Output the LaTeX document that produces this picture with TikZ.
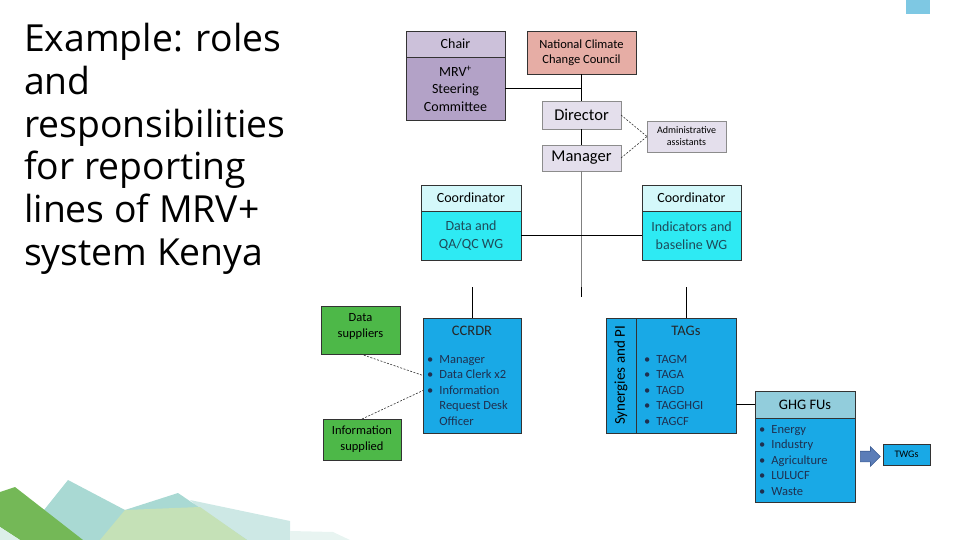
\documentclass[tikz,border=0pt]{standalone}
\usepackage{fontspec}
\setmainfont{Carlito}
\newfontfamily\titlefont{Open Sans}
\usepackage{xcolor}
\definecolor{chairhead}{HTML}{CCC1DA}
\definecolor{steerfill}{HTML}{B3A2C7}
\definecolor{councilfill}{HTML}{E6ADA5}
\definecolor{lavfill}{HTML}{E4DFEC}
\definecolor{coordhead}{HTML}{D4F8FA}
\definecolor{wgfill}{HTML}{2EEAF3}
\definecolor{unitblue}{HTML}{19A9E6}
\definecolor{ghgheadfill}{HTML}{92CDDC}
\definecolor{supgreen}{HTML}{4DB848}
\definecolor{arrowfill}{HTML}{5B7DB8}
\definecolor{arrowedge}{HTML}{3F5F96}
\definecolor{listtext}{HTML}{1F3050}
\definecolor{wgtext}{HTML}{1E4B5A}
\definecolor{tealmid}{HTML}{A9D9D3}
\definecolor{teallight}{HTML}{CDE8E5}
\definecolor{greenlight}{HTML}{C5E1B7}
\definecolor{greendark}{HTML}{74B857}
\definecolor{mint}{HTML}{DCEFE9}
\definecolor{mintpale}{HTML}{E8F4F1}
\definecolor{topblue}{HTML}{7EC8E3}
\usepackage{tikz}
\usetikzlibrary{positioning, shapes.arrows}

\newcommand{\fsz}[2]{\fontsize{#1}{#2}\selectfont}
\newcommand{\blist}[1]{\begin{tabular}{@{}l@{\hspace{6pt}}l@{}}#1\end{tabular}}

\begin{document}
\begin{tikzpicture}[x=1pt, y=-1pt, >=latex]

        % Estilos
        \tikzset{
          box/.style={rectangle, draw=black!80, line width=0.9pt, outer sep=0pt, inner sep=1pt, align=center, anchor=north west},
          lavbox/.style={box, draw=black!45, fill=lavfill},
          unittitle/.style={inner sep=0pt, font=\fsz{14.5}{17}, text=black!85},
          unitlist/.style={inner sep=0pt, font=\fsz{12.5}{15.6}, text=listtext},
          link/.style={draw=black, line width=0.8pt},
          dashlink/.style={draw=black!80, line width=0.6pt, dash pattern=on 2pt off 1.5pt}
        }
        \useasboundingbox (0,0) rectangle (960,540);

        % Fundo decorativo
        \fill[teallight] (190,500) -- (290,521) -- (290,540) -- (232,540) -- cycle;
        \fill[tealmid] (20,540) -- (68,480) -- (125,510) -- (178,493) -- (247,540) -- cycle;
        \fill[greenlight] (100,540) -- (125,510) -- (200,507) -- (247,540) -- cycle;
        \fill[greendark] (0,492) -- (15,487) -- (83,540) -- (20,540) -- (0,527) -- cycle;
        \fill[mint] (0,527) -- (20,540) -- (0,540) -- cycle;
        \fill[mintpale] (290,531) -- (333,532) -- (350,540) -- (290,540) -- cycle;
        \fill[topblue] (906,0) rectangle (930,14);

        % Titulo
        \node[anchor=north west, align=left, inner sep=0pt, font=\titlefont\fsz{37.3}{42.8}] (title) at (24,23)
          {Example: roles\\and\\responsibilities\\for reporting\\lines of MRV+\\system Kenya};

        % Topo
        \node[box, fill=chairhead, minimum width=99pt, minimum height=26pt, font=\fsz{14}{17}] (chair) at (406,31) {Chair};
        \node[box, fill=steerfill, below=0pt of chair, minimum width=99pt, minimum height=63pt, font=\fsz{14}{17.5}] (steer) {MRV\textsuperscript{+}\\Steering\\Committee};
        \node[box, fill=councilfill, minimum width=109pt, minimum height=43pt, font=\fsz{12.5}{15}] (council) at (527,31) {National Climate\\Change Council};
        \node[lavbox, minimum width=79pt, minimum height=28pt, font=\fsz{16.5}{19}] (director) at (542,101) {Director};
        \node[lavbox, minimum width=79pt, minimum height=26pt, font=\fsz{16.5}{19}] (manager) at (542,145) {Manager};
        \node[lavbox, minimum width=79pt, minimum height=31pt, font=\fsz{10}{12}] (admin) at (647,121) {Administrative\\assistants};

        % Coordenadores
        \node[box, fill=coordhead, minimum width=100pt, minimum height=26pt, font=\fsz{14}{17}] (coordL) at (421,185) {Coordinator};
        \node[box, fill=wgfill, text=wgtext, below=0pt of coordL, minimum width=100pt, minimum height=49pt, font=\fsz{14}{18}] (dataqa) {Data and\\QA/QC WG};
        \node[box, fill=coordhead, minimum width=99pt, minimum height=26pt, font=\fsz{14}{17}] (coordR) at (642,185) {Coordinator};
        \node[box, fill=wgfill, text=wgtext, below=0pt of coordR, minimum width=99pt, minimum height=49pt, font=\fsz{14}{18}] (indwg) {Indicators and\\baseline WG};

        % Fornecedores
        \node[box, fill=supgreen, minimum width=79pt, minimum height=48pt, font=\fsz{12.5}{16}] (datasup) at (321,306) {Data\\suppliers\\[-6pt]};
        \node[box, fill=supgreen, minimum width=78pt, minimum height=41pt, font=\fsz{12.5}{16}] (infosup) at (323,419) {Information\\supplied};

        % CCRDR
        \node[box, fill=unitblue, minimum width=98pt, minimum height=115pt] (ccrdr) at (423,318) {};
        \node[unittitle, below=8pt of ccrdr.north] (ccrdrtitle) {CCRDR};
        \node[unitlist, below right=34pt and 4pt of ccrdr.north west] (ccrdrlist)
          {\blist{\textbullet & Manager\\ \textbullet & Data Clerk x2\\ \textbullet & Information\\ & Request Desk\\ & Officer}};

        % TAGs
        \node[box, fill=unitblue, rotate=90, anchor=center, minimum width=115pt, minimum height=30pt, font=\fsz{15}{18}] (synergy) at (621,375.5) {Synergies and PI};
        \node[box, fill=unitblue, minimum width=100pt, minimum height=115pt] (tags) at (636,318) {};
        \node[unittitle, below=8pt of tags.north] (tagstitle) {TAGs};
        \node[unitlist, below right=34pt and 8pt of tags.north west] (tagslist)
          {\blist{\textbullet & TAGM\\ \textbullet & TAGA\\ \textbullet & TAGD\\ \textbullet & TAGGHGI\\ \textbullet & TAGCF}};

        % GHG FUs
        \node[box, fill=ghgheadfill, minimum width=100pt, minimum height=27pt, font=\fsz{14.5}{17}] (ghghead) at (755,391) {GHG FUs};
        \node[box, fill=unitblue, below=0pt of ghghead, minimum width=100pt, minimum height=84pt] (ghgbody) {};
        \node[unitlist, below right=4pt and 4pt of ghgbody.north west] (ghglist)
          {\blist{\textbullet & Energy\\ \textbullet & Industry\\ \textbullet & Agriculture\\ \textbullet & LULUCF\\ \textbullet & Waste}};
        \node[single arrow, draw=arrowedge, fill=arrowfill, line width=0.6pt, inner sep=5pt, minimum height=20pt, single arrow head extend=4.5pt, anchor=west] (twgarrow) at (860,456.5) {};
        \node[box, fill=unitblue, minimum width=47pt, minimum height=21pt, font=\fsz{10}{12}] (twgs) at (883,444) {TWGs};

        % Ligacoes
        \coordinate (hubtop) at (581.5,287);
        \coordinate (hub) at (581.5,297);
        \coordinate (ccrdrstub) at (472,287);
        \coordinate (tagsstub) at (686,287);
        \draw[link] (council.south) -- (director.north);
        \draw[link] (steer.east) -- (steer.east -| council.south);
        \draw[link] (director.south) -- (manager.north);
        \draw[dashlink] (director.east) -- (admin.west);
        \draw[dashlink] (manager.east) -- (admin.west);
        \draw[link, draw=black!50] (manager.south) -- (hubtop);
        \draw[link] (hubtop) -- (hub);
        \draw[link] (dataqa.east) -- (indwg.west);
        \draw[link] (ccrdrstub) -- (ccrdr.north);
        \draw[link] (tagsstub) -- (tags.north);
        \draw[dashlink] (datasup.south) -- (ccrdr.west);
        \draw[dashlink] (infosup.north) -- ([yshift=-15pt]ccrdr.west);
        \draw[link] (tags.east |- ghghead.west) -- (ghghead.west);
\end{tikzpicture}
\end{document}
